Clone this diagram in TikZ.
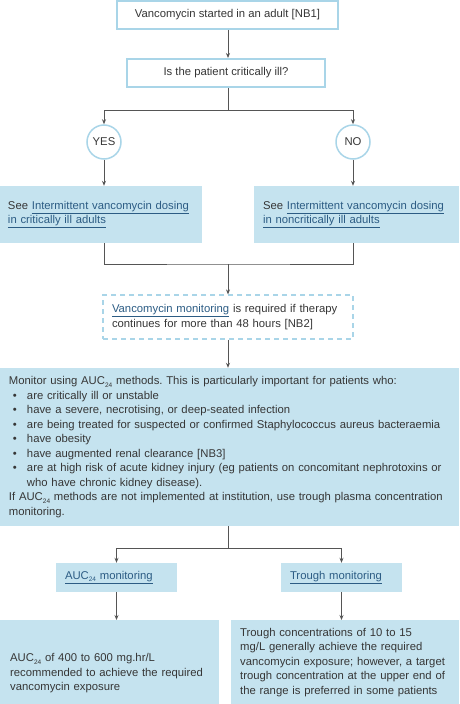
\documentclass[tikz,border=0pt]{standalone}
\usepackage{fontspec}
\setmainfont{Liberation Sans}
\usetikzlibrary{arrows.meta}

\definecolor{boxblue}{HTML}{C5E3EF}
\definecolor{edgeblue}{HTML}{A9D5E8}
\definecolor{linkblue}{HTML}{2C5C84}
\definecolor{txtgray}{HTML}{363636}
\definecolor{wiregray}{HTML}{555555}

\newcommand{\lnk}[1]{{\color{linkblue}\underline{#1}}}
\newcommand{\auc}{AUC\raisebox{-0.45ex}{\fontsize{6.5}{6.5}\selectfont 24}}
\newcommand{\bitem}[1]{\par\hangindent=18pt\hangafter=1\noindent\makebox[18pt][l]{\hspace{4pt}\textbullet}#1}
\frenchspacing

\tikzset{
	outline/.style = {draw = edgeblue, line width = 1.5pt, fill = white, text = txtgray, minimum height = 28pt},
	shaded/.style = {fill = boxblue, text = txtgray, align = left, inner xsep = 9pt, inner ysep = 0pt},
	answer/.style = {circle, draw = edgeblue, line width = 1.5pt, minimum size = 34pt, inner sep = 0pt, fill = white, text = txtgray},
	wire/.style = {draw = wiregray, line width = 0.8pt},
	arrowed/.style = {wire, -{Stealth[length = 5pt, width = 4pt]}}
}

\begin{document}
\begin{tikzpicture}[x = 1pt, y = -1pt, font = \fontsize{11.3}{14.5}\selectfont]
	\clip (0, 0) rectangle (459, 704);
%%%%%%%%%%% top
	\node[outline, minimum width = 221pt] (start) at (227.5, 15) {Vancomycin started in an adult [NB1]};
	\node[outline, minimum width = 198pt, line width = 2pt] (crit) at (226, 73) {Is the patient critically ill?};
	\node[answer] (yes) at (104, 142) {YES};
	\node[answer] (no) at (353, 142) {NO};
	\node[shaded, text width = 185pt, minimum height = 57pt] (seeyes) at (100.5, 214.5) {See \lnk{Intermittent vancomycin dosing}\\ \lnk{in critically ill adults}};
	\node[shaded, text width = 187pt, minimum height = 57pt] (seeno) at (356.5, 214.5) {See \lnk{Intermittent vancomycin dosing}\\ \lnk{in noncritically ill adults}};
%%%%%%%%%%% middle
	\node[draw = edgeblue, dash pattern = on 5pt off 4pt, line width = 1.2pt, text = txtgray, align = left, text width = 232pt, inner xsep = 9pt, minimum height = 44pt] (mon) at (228, 317) {\lnk{Vancomycin monitoring} is required if therapy\\ continues for more than 48 hours [NB2]};
	\node[shaded, text width = 441pt, minimum height = 158pt] (big) at (229.5, 447) {%
		Monitor using \auc{} methods. This is particularly important for patients who:
		\bitem{are critically ill or unstable}
		\bitem{have a severe, necrotising, or deep-seated infection}
		\bitem{are being treated for suspected or confirmed Staphylococcus aureus bacteraemia}
		\bitem{have obesity}
		\bitem{have augmented renal clearance [NB3]}
		\bitem{are at high risk of acute kidney injury (eg patients on concomitant nephrotoxins or\newline who have chronic kidney disease).}
		\par\noindent If \auc{} methods are not implemented at institution, use trough plasma concentration\newline monitoring.};
%%%%%%%%%%% bottom
	\node[shaded, text width = 103pt, minimum height = 29pt] (auc) at (116.5, 577.5) {\lnk{\auc{} monitoring}};
	\node[shaded, text width = 103pt, minimum height = 29pt] (trough) at (341.5, 577.5) {\lnk{Trough monitoring}};
	\node[shaded, anchor = north west, text width = 199pt, inner xsep = 10pt, minimum height = 106pt] (aucres) at (0, 620) {\auc{} of 400 to 600 mg.hr/L\\ recommended to achieve the required\\ vancomycin exposure};
	\node[shaded, anchor = north west, text width = 210pt, minimum height = 84pt] (troughres) at (231, 620) {Trough concentrations of 10 to 15\\ mg/L generally achieve the required\\ vancomycin exposure; however, a target\\ trough concentration at the upper end of\\ the range is preferred in some patients};
%%%%%%%%%%% connectors
	\coordinate (fork) at (228, 110);
	\coordinate (join) at (228, 264);
	\coordinate (split) at (228, 548);
	\draw[arrowed] (fork |- start.south) -- (fork |- crit.north);
	\draw[wire] (fork |- crit.south) -- (fork);
	\draw[arrowed] (fork) -| (yes);
	\draw[arrowed] (fork) -| (no);
	\draw[arrowed] (yes) -- (yes |- seeyes.north);
	\draw[arrowed] (no) -- (no |- seeno.north);
	\draw[wire] (yes |- seeyes.south) |- (join) -| (no |- seeno.south);
	\draw[arrowed] (join) -- (mon);
	\draw[arrowed] (mon) -- (split |- big.north);
	\draw[wire] (split |- big.south) -- (split);
	\draw[arrowed] (split) -| (auc);
	\draw[arrowed] (split) -| (trough);
	\draw[arrowed] (auc) -- (auc |- aucres.north);
	\draw[arrowed] (trough) -- (trough |- troughres.north);
\end{tikzpicture}
\end{document}
